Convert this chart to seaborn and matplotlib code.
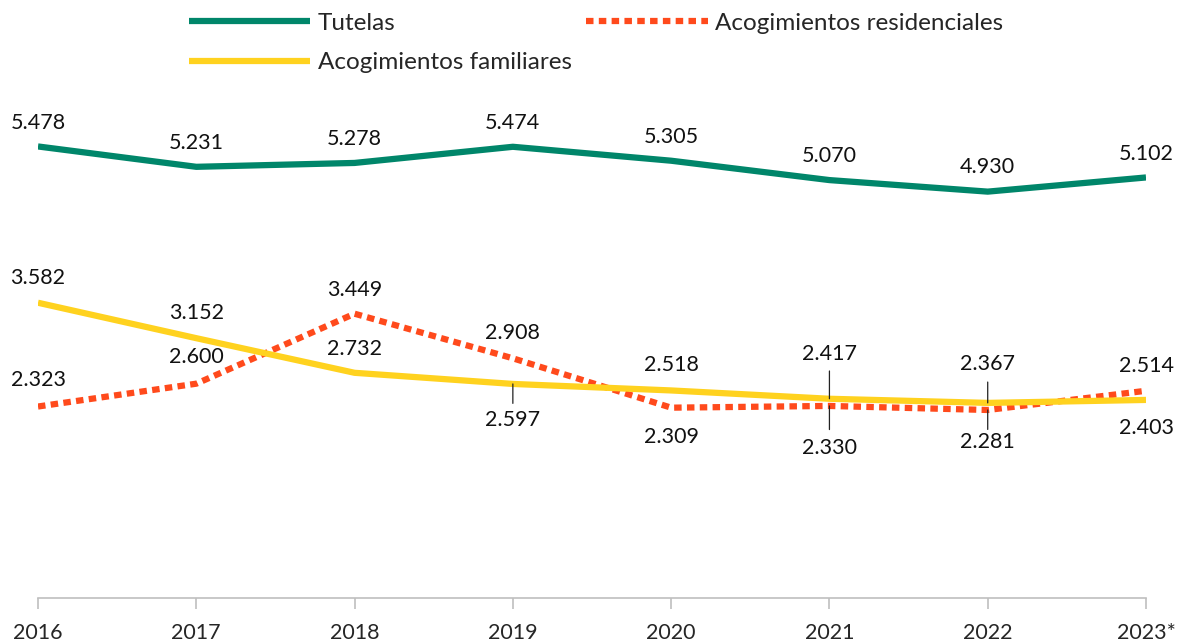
import numpy as np
import pandas as pd
import matplotlib
matplotlib.use("Agg")
import matplotlib.pyplot as plt
import seaborn as sns

# values
years = ["2016", "2017", "2018", "2019", "2020", "2021", "2022", "2023*"]
tutelas = [5478, 5231, 5278, 5474, 5305, 5070, 4930, 5102]
residenciales = [2323, 2600, 3449, 2908, 2309, 2330, 2281, 2514]
familiares = [3582, 3152, 2732, 2597, 2518, 2417, 2367, 2403]

# label placement (vertical offset in points, leader length in points or 0)
tut_off = [17, 17, 17, 17, 17, 17, 18, 17]
res_off = [19, 19, 17, 18, -21, -30, -23, 18]
res_lead = [0, 0, 0, 0, 0, -17, -14, 0]
fam_off = [18, 18, 17, -26, 18, 32, 28, -20]
fam_lead = [0, 0, 0, -14, 0, 20, 15, 0]

GREEN = "#00866A"
RED = "#FF4A1C"
YELLOW = "#FFD21F"

sns.set_style("white")
plt.rcParams["font.family"] = ["Lato", "DejaVu Sans"]

fig = plt.figure(figsize=(11.8, 6.44), dpi=100)
ax = fig.add_axes([38 / 1180, 1 - 598 / 644, (1146 - 38) / 1180, (598 - 21) / 644])

x = np.arange(len(years))
df = pd.DataFrame({"x": x, "Tutelas": tutelas,
                   "Acogimientos residenciales": residenciales,
                   "Acogimientos familiares": familiares})

sns.lineplot(data=df, x="x", y="Tutelas", ax=ax, color=GREEN, lw=4.5,
             label="Tutelas", solid_capstyle="butt")
sns.lineplot(data=df, x="x", y="Acogimientos residenciales", ax=ax, color=RED, lw=4.5,
             label="Acogimientos residenciales", linestyle=(0, (1.2, 0.85)),
             dash_capstyle="butt")
sns.lineplot(data=df, x="x", y="Acogimientos familiares", ax=ax, color=YELLOW, lw=4.5,
             label="Acogimientos familiares", solid_capstyle="butt")


def fmt(v):
    return f"{v:,}".replace(",", ".")


def put_labels(vals, offs, leads=None):
    for i, v in enumerate(vals):
        ax.annotate(fmt(v), (x[i], v), xytext=(0, offs[i]), textcoords="offset points",
                    ha="center", va="center", fontsize=15.5, color="#111111")
        if leads is not None and leads[i] != 0:
            ax.annotate("", xy=(x[i], v), xytext=(0, leads[i]), textcoords="offset points",
                        arrowprops=dict(arrowstyle="-", color="#222222", lw=0.9,
                                        shrinkA=0, shrinkB=0))


put_labels(tutelas, tut_off)
put_labels(residenciales, res_off, res_lead)
put_labels(familiares, fam_off, fam_lead)

ax.set_xlim(0, len(years) - 1)
ax.set_ylim(0, 7000)
ax.set_xticks(x)
ax.set_xticklabels(years, fontsize=15.5)
ax.set_yticks([])
ax.set_xlabel("")
ax.set_ylabel("")
for s in ["top", "right", "left"]:
    ax.spines[s].set_visible(False)
ax.spines["bottom"].set_color("#BFBFBF")
ax.spines["bottom"].set_linewidth(1.2)
ax.tick_params(axis="x", length=8, width=1.2, color="#BFBFBF", pad=10, bottom=True)

h, l = ax.get_legend_handles_labels()
order = [0, 2, 1]
ax.legend([h[i] for i in order], [l[i] for i in order], ncol=2, frameon=False,
          fontsize=17.5, handlelength=5.0, handletextpad=0.3, columnspacing=0.6,
          labelspacing=0.75, loc="center", bbox_to_anchor=(596 / 1180, 1 - 43 / 644),
          bbox_transform=fig.transFigure)

fig.savefig("out.png", dpi=100)
